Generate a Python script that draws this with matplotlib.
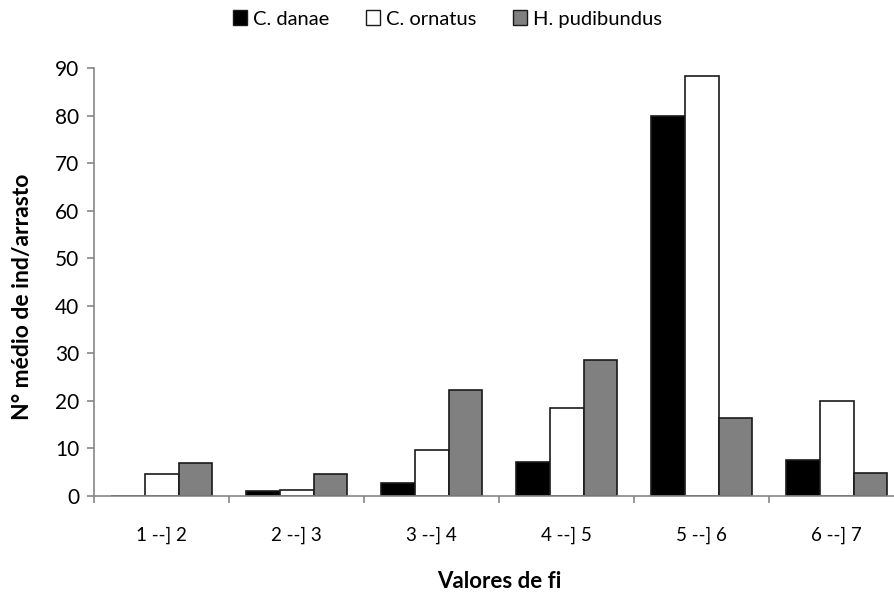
import numpy as np
import matplotlib
matplotlib.use('Agg')
from matplotlib import pyplot as plt
from matplotlib.patches import Patch

classes = ['1 --] 2', '2 --] 3', '3 --] 4', '4 --] 5', '5 --] 6', '6 --] 7']
c_danae = [0, 0.9, 2.7, 7.1, 80.0, 7.5]
c_ornatus = [4.5, 1.2, 9.6, 18.5, 88.3, 20.0]
h_pudibundus = [6.8, 4.5, 22.2, 28.5, 16.3, 4.8]
series = ['C. danae', 'C. ornatus', 'H. pudibundus']
colors = ['#000000', '#ffffff', '#808080']

plt.rcParams['font.family'] = ['Lato', 'DejaVu Sans']
axcol = '#868686'

fig = plt.figure(figsize=(8.95, 5.94), dpi=100)
ax = fig.add_axes([94.3 / 895, (594 - 495.7) / 594, 810 / 895, (495.7 - 68.3) / 594])

x = np.arange(len(classes))
w = 0.25
for i, (vals, name, col) in enumerate(zip([c_danae, c_ornatus, h_pudibundus], series, colors)):
    ax.bar(x + (i - 1) * w, vals, w, color=col, edgecolor='#1a1a1a', linewidth=1.2,
           label=name, zorder=3)

ax.set_xlim(-0.5, len(classes) - 0.5)
ax.set_ylim(0, 90)
ax.set_yticks(np.arange(0, 91, 10))
ax.set_xticks(x)
ax.set_xticklabels(classes)
ax.set_xticks(np.arange(-0.5, len(classes), 1), minor=True)
ax.tick_params(axis='x', which='major', length=0, pad=22, labelsize=13.5)
ax.tick_params(axis='x', which='minor', length=5, color=axcol, width=1.2, direction='out')
ax.tick_params(axis='y', length=5, color=axcol, width=1.2, direction='out', labelsize=15, pad=6)

for s in ['top', 'right']:
    ax.spines[s].set_visible(False)
for s in ['left', 'bottom']:
    ax.spines[s].set_color(axcol)
    ax.spines[s].set_linewidth(1.2)
ax.spines['bottom'].set_zorder(4)

ax.set_ylabel('N° médio de ind/arrasto', fontsize=16.5, fontweight='bold')
ax.yaxis.set_label_coords(-0.076, 0.465)
ax.set_xlabel('Valores de fi', fontsize=16, fontweight='bold', labelpad=20)

handles = [Patch(facecolor=c, edgecolor='#1a1a1a', linewidth=1) for c in colors]
fig.legend(handles, series, loc='center', bbox_to_anchor=(0.5, 1 - 19 / 594), ncol=3,
           frameon=False, fontsize=14.5, handlelength=0.7, handleheight=0.7,
           handletextpad=0.3, columnspacing=1.8)

fig.savefig('out.png', dpi=100)
